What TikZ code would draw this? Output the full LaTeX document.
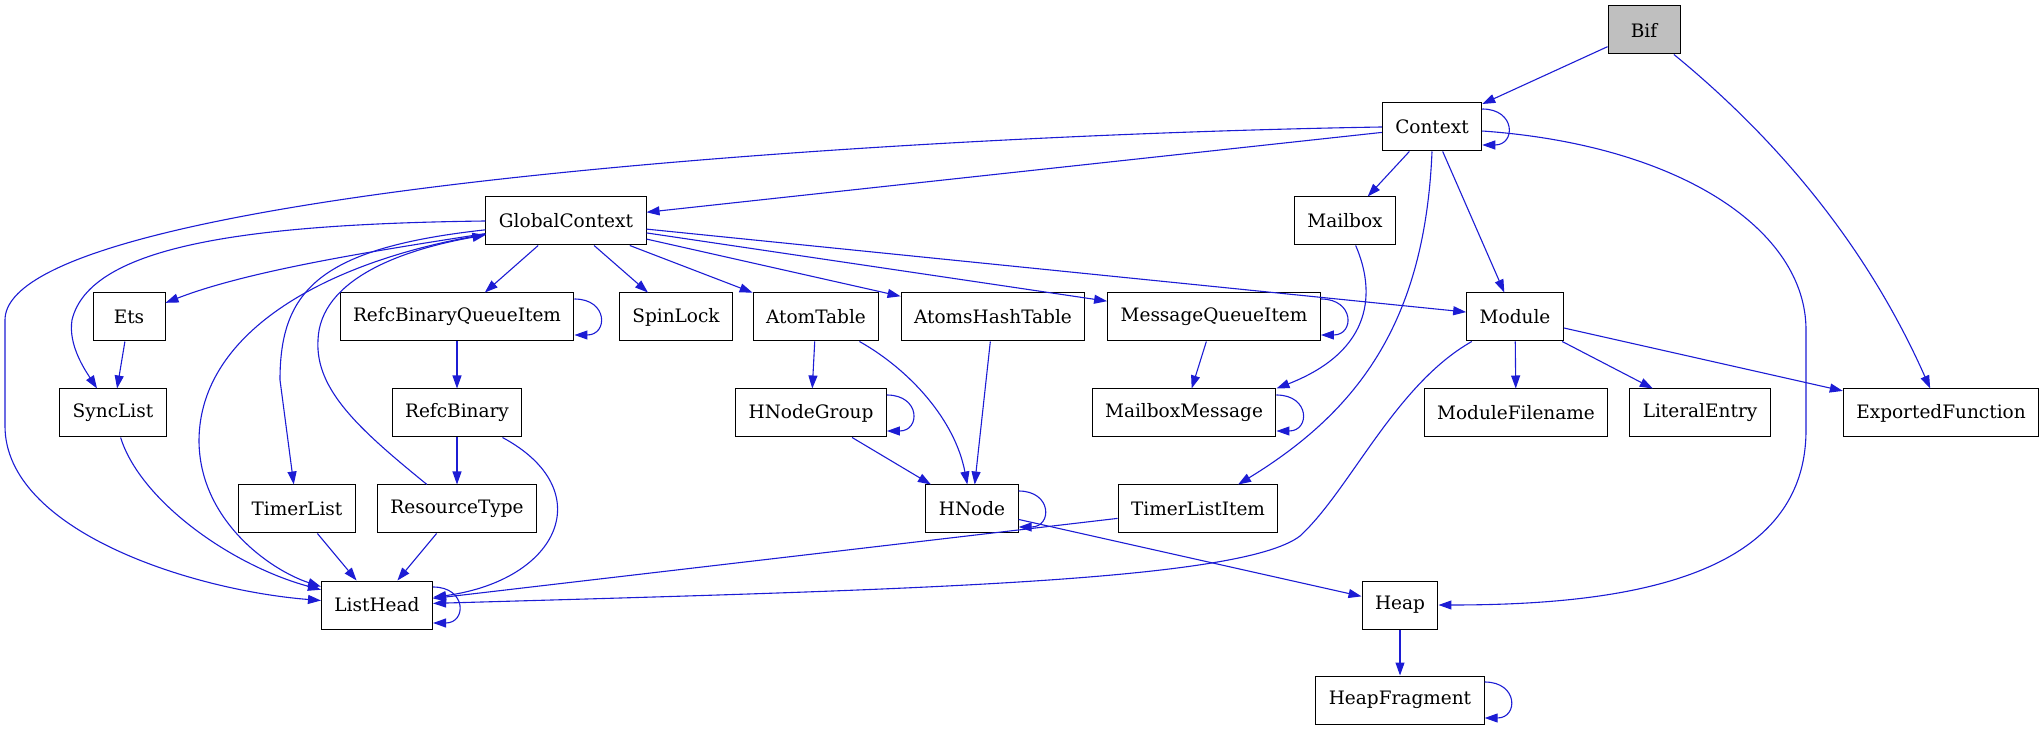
\documentclass[tikz,border=0pt]{standalone}
\usepackage{fontspec}
\setmainfont{DejaVu Serif}
\usepackage{tikz}
\usetikzlibrary{arrows.meta}
\definecolor{edgeblue}{HTML}{1C1CD4}
\definecolor{rootgray}{HTML}{BFBFBF}
\tikzstyle{cls} = [rectangle, draw=black, fill=white, line width=0.5pt, minimum height=24pt, minimum width=36pt, inner xsep=6.5pt, font=\fontsize{9.25pt}{11pt}\selectfont]
\tikzstyle{dep} = [edgeblue, line width=0.55pt, -{Triangle[length=6.5pt,width=4.5pt]}]
\tikzstyle{selfloop} = [out=0, in=0, looseness=2.4]

\begin{document}
\begin{tikzpicture}[x=0.5pt, y=-0.5pt]
    \useasboundingbox (0,0) rectangle (2044,731);

    \node[cls, fill=rootgray] (bif) at (1644,30) {Bif};
    \node[cls] (context) at (1432,127) {Context};
    \node[cls] (globalcontext) at (566,221) {GlobalContext};
    \node[cls] (mailbox) at (1345,221) {Mailbox};
    \node[cls] (ets) at (129,317) {Ets};
    \node[cls] (refcbinaryqueueitem) at (457,317) {RefcBinaryQueueItem};
    \node[cls] (spinlock) at (676,317) {SpinLock};
    \node[cls] (atomtable) at (816,317) {AtomTable};
    \node[cls] (atomshashtable) at (993,317) {AtomsHashTable};
    \node[cls] (messagequeueitem) at (1214,317) {MessageQueueItem};
    \node[cls] (module) at (1515,317) {Module};
    \node[cls] (synclist) at (113,413) {SyncList};
    \node[cls] (refcbinary) at (457,413) {RefcBinary};
    \node[cls] (hnodegroup) at (811,413) {HNodeGroup};
    \node[cls] (mailboxmessage) at (1184,413) {MailboxMessage};
    \node[cls] (modulefilename) at (1516,413) {ModuleFilename};
    \node[cls] (literalentry) at (1700,413) {LiteralEntry};
    \node[cls] (exportedfunction) at (1941,413) {ExportedFunction};
    \node[cls] (timerlist) at (297,509) {TimerList};
    \node[cls] (resourcetype) at (457,509) {ResourceType};
    \node[cls] (hnode) at (972,509) {HNode};
    \node[cls] (timerlistitem) at (1198,509) {TimerListItem};
    \node[cls] (listhead) at (377,605) {ListHead};
    \node[cls] (heap) at (1400,605) {Heap};
    \node[cls] (heapfragment) at (1400,700) {HeapFragment};

    % Bif and Context
    \draw[dep] (bif) -- (context);
    \draw[dep] (bif) .. controls (1760,125) and (1860,230) .. (exportedfunction);
    \draw[dep] ([yshift=9pt]context.east) to[selfloop] ([yshift=-9pt]context.east);
    \draw[dep] (context) -- (globalcontext);
    \draw[dep] (context.west) .. controls (900,135) and (5,190) .. (5,320) -- (5,426) .. controls (5,530) and (190,590) .. (listhead);
    \draw[dep] (context) -- (mailbox);
    \draw[dep] (context.south) .. controls (1425,320) and (1360,410) .. (timerlistitem);
    \draw[dep] (context) -- (module);
    \draw[dep] ([yshift=-2pt]context.east) .. controls (1680,145) and (1806,230) .. (1806,330) -- (1806,430) .. controls (1806,580) and (1620,605) .. (heap.east);

    % GlobalContext
    \draw[dep] (globalcontext.west) .. controls (250,224) and (90,245) .. (72,320) .. controls (68,345) and (85,370) .. (synclist);
    \draw[dep] (globalcontext) .. controls (380,250) and (250,270) .. (ets);
    \draw[dep] (globalcontext) .. controls (330,260) and (200,330) .. (199,440) .. controls (199,520) and (270,570) .. (listhead);
    \draw[dep] (globalcontext) .. controls (320,248) and (280,290) .. (280,380) -- (timerlist);
    \draw[dep] (resourcetype) .. controls (360,430) and (315,390) .. (318,340) .. controls (320,280) and (400,250) .. (globalcontext);
    \draw[dep] (globalcontext) -- (refcbinaryqueueitem);
    \draw[dep] (globalcontext) -- (spinlock);
    \draw[dep] (globalcontext) -- (atomtable);
    \draw[dep] (globalcontext) -- (atomshashtable);
    \draw[dep] (globalcontext) -- (messagequeueitem);
    \draw[dep] (globalcontext) -- (module);

    % left column
    \draw[dep] ([yshift=9pt]refcbinaryqueueitem.east) to[selfloop] ([yshift=-9pt]refcbinaryqueueitem.east);
    \draw[dep] (refcbinaryqueueitem) -- (refcbinary);
    \draw[dep] (refcbinary) -- (resourcetype);
    \draw[dep] (refcbinary) .. controls (600,490) and (560,580) .. (listhead);
    \draw[dep] (resourcetype) -- (listhead);
    \draw[dep] (timerlist) -- (listhead);
    \draw[dep] (synclist) .. controls (140,500) and (230,565) .. (listhead);
    \draw[dep] (ets) -- (synclist);
    \draw[dep] ([yshift=9pt]listhead.east) to[selfloop] ([yshift=-9pt]listhead.east);

    % atoms
    \draw[dep] (atomtable) -- (hnodegroup);
    \draw[dep] (atomtable) .. controls (910,370) and (955,420) .. (hnode);
    \draw[dep] (atomshashtable) -- (hnode);
    \draw[dep] ([yshift=9pt]hnodegroup.east) to[selfloop] ([yshift=-9pt]hnodegroup.east);
    \draw[dep] (hnodegroup) -- (hnode);
    \draw[dep] ([yshift=9pt]hnode.east) to[selfloop] ([yshift=-9pt]hnode.east);
    \draw[dep] (hnode) -- (heap);

    % messages
    \draw[dep] ([yshift=9pt]messagequeueitem.east) to[selfloop] ([yshift=-9pt]messagequeueitem.east);
    \draw[dep] (messagequeueitem) -- (mailboxmessage);
    \draw[dep] (mailbox) .. controls (1375,290) and (1375,350) .. (mailboxmessage.north east);
    \draw[dep] ([yshift=9pt]mailboxmessage.east) to[selfloop] ([yshift=-9pt]mailboxmessage.east);
    \draw[dep] (timerlistitem) -- (listhead);

    % Module and Heap
    \draw[dep] (module) .. controls (1395,385) and (1350,490) .. (1300,536) .. controls (1240,582) and (900,590) .. (listhead);
    \draw[dep] (module) -- (modulefilename);
    \draw[dep] (module) -- (literalentry);
    \draw[dep] (module) -- (exportedfunction);
    \draw[dep] (heap) -- (heapfragment);
    \draw[dep] ([yshift=9pt]heapfragment.east) to[selfloop] ([yshift=-9pt]heapfragment.east);
\end{tikzpicture}
\end{document}
